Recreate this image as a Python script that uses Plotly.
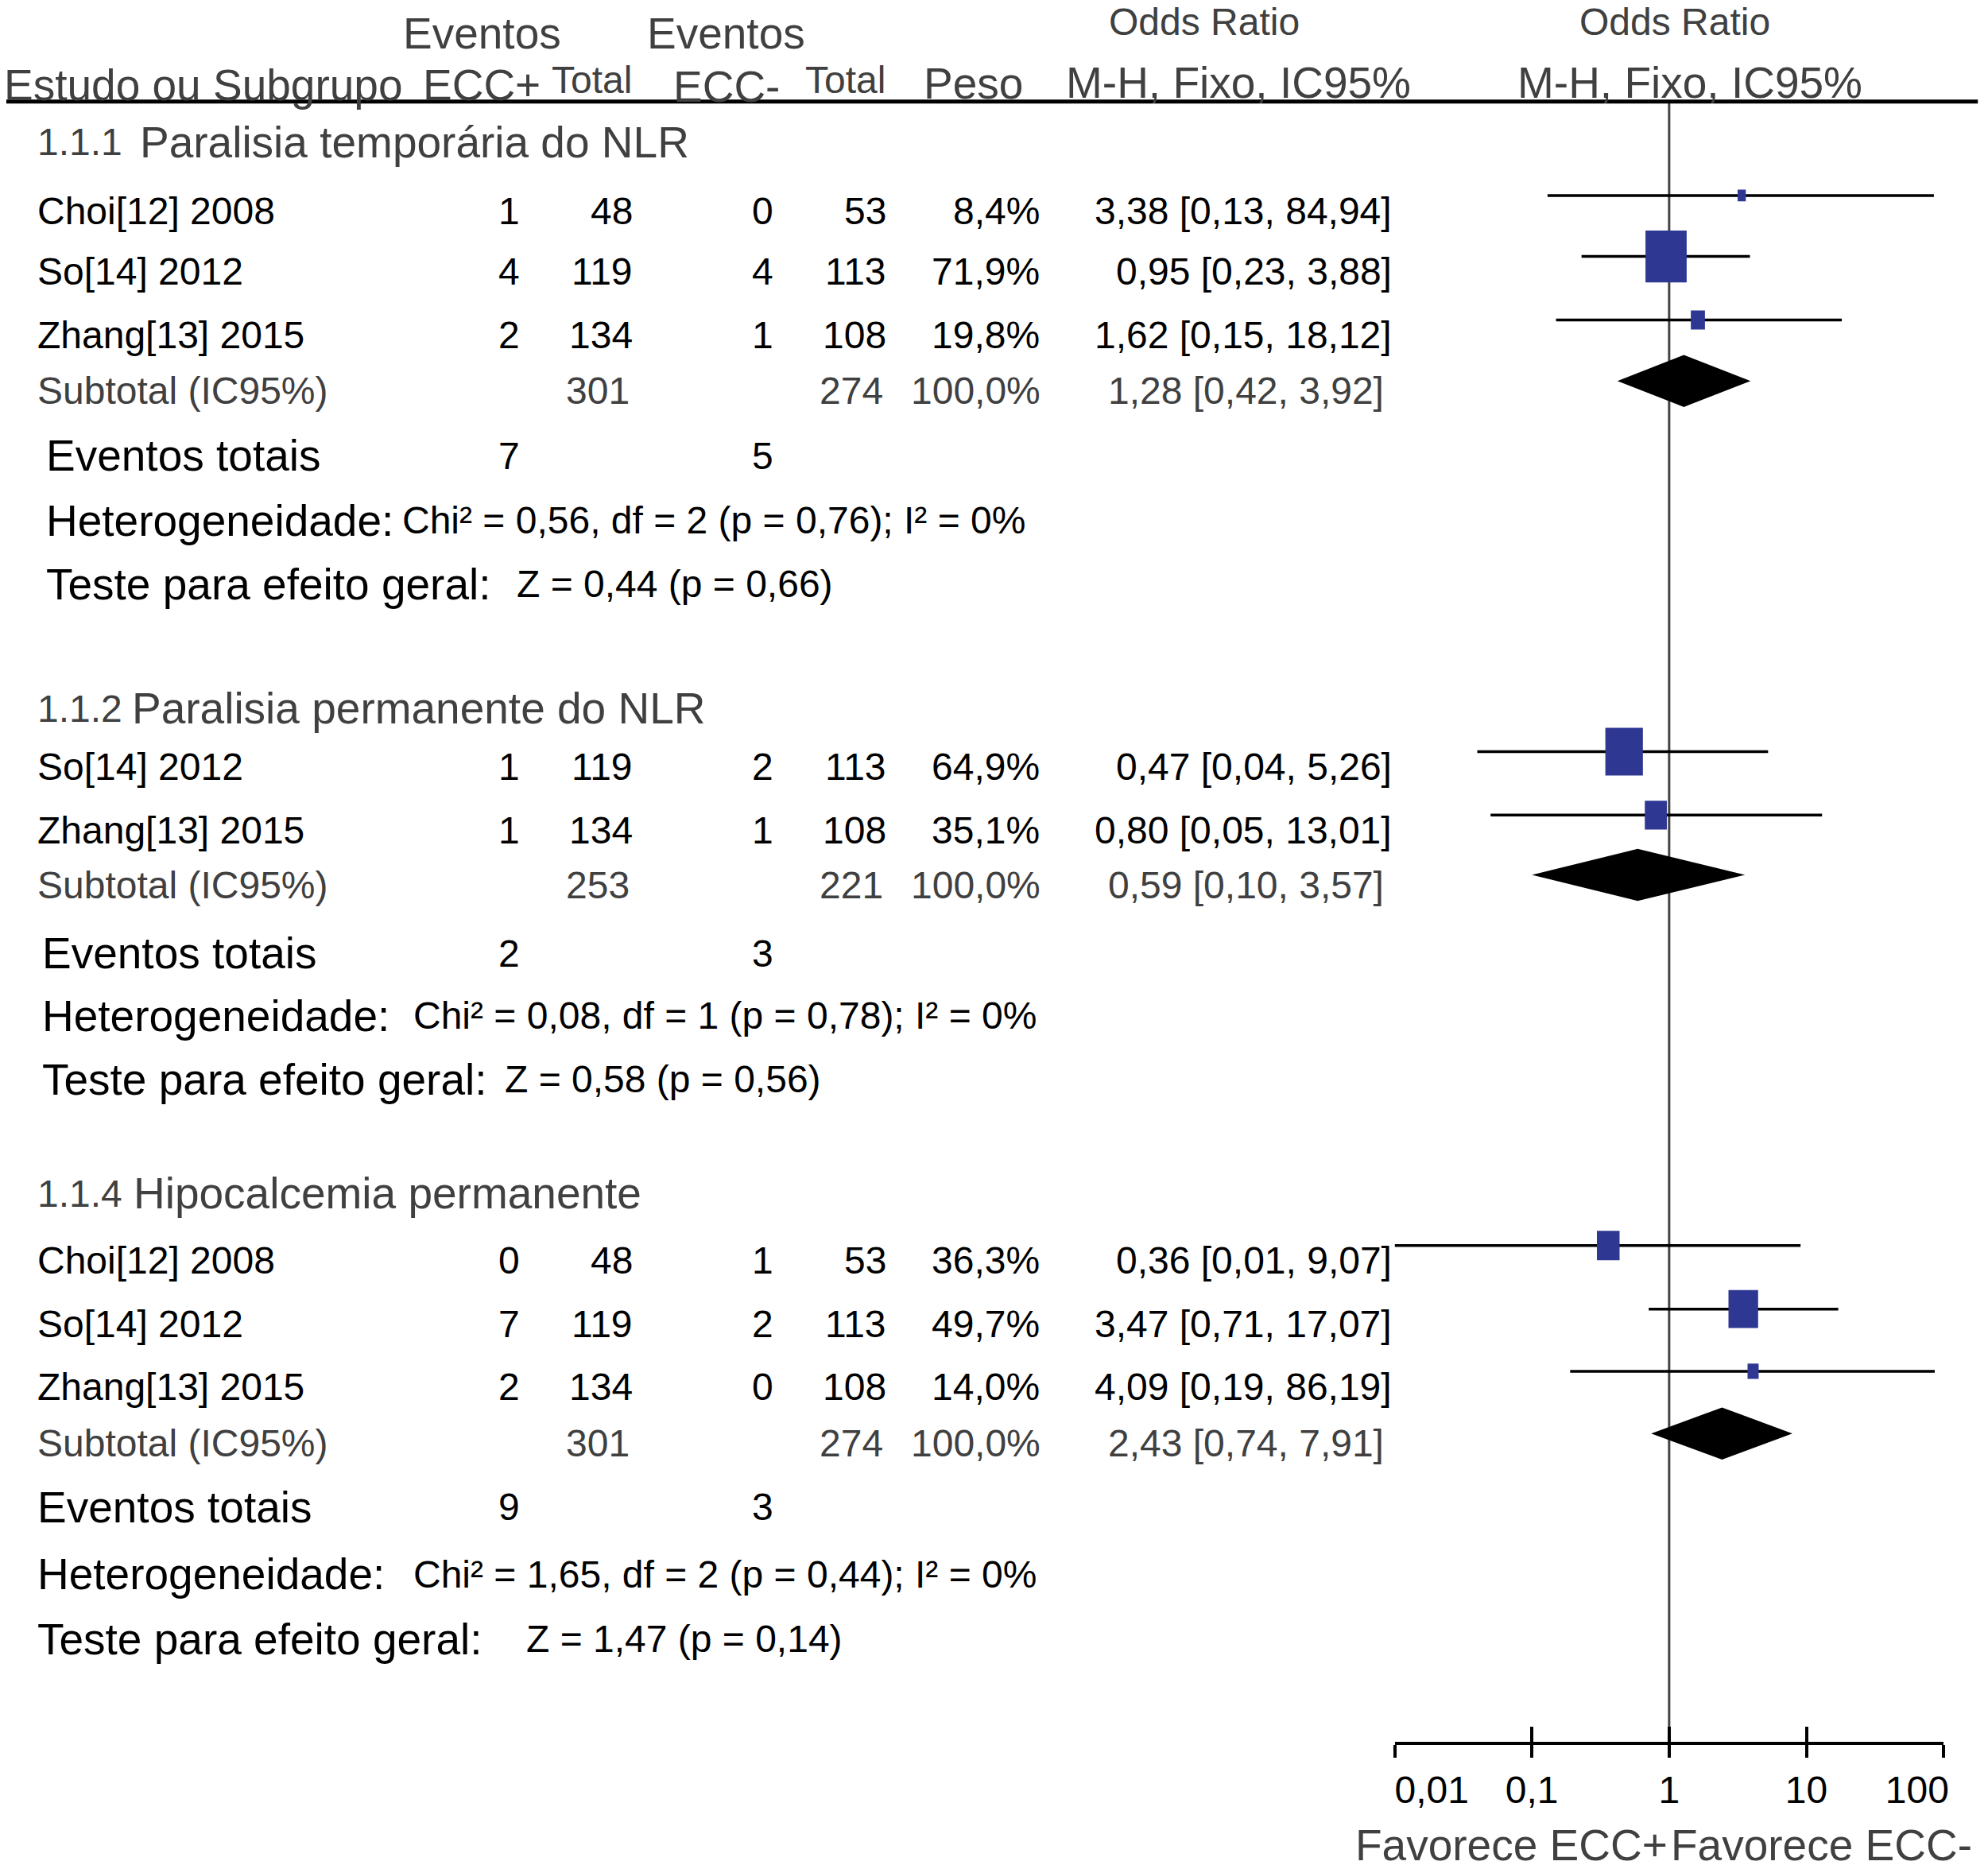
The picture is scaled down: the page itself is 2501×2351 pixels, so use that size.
import plotly.graph_objects as go

# ---- dados ----
group_codes = ["1.1.1", "1.1.2", "1.1.4"]
group_titles = ["Paralisia temporária do NLR", "Paralisia permanente do NLR", "Hipocalcemia permanente"]

study_group = [0, 0, 0, 1, 1, 2, 2, 2]
study_names = ["Choi[12] 2008", "So[14] 2012", "Zhang[13] 2015",
               "So[14] 2012", "Zhang[13] 2015",
               "Choi[12] 2008", "So[14] 2012", "Zhang[13] 2015"]
ev_pos = [1, 4, 2, 1, 1, 0, 7, 2]
tot_pos = [48, 119, 134, 119, 134, 48, 119, 134]
ev_neg = [0, 4, 1, 2, 1, 1, 2, 0]
tot_neg = [53, 113, 108, 113, 108, 53, 113, 108]
peso = [8.4, 71.9, 19.8, 64.9, 35.1, 36.3, 49.7, 14.0]
odds = [3.38, 0.95, 1.62, 0.47, 0.80, 0.36, 3.47, 4.09]
ci_low = [0.13, 0.23, 0.15, 0.04, 0.05, 0.01, 0.71, 0.19]
ci_high = [84.94, 3.88, 18.12, 5.26, 13.01, 9.07, 17.07, 86.19]

sub_tot_pos = [301, 253, 301]
sub_tot_neg = [274, 221, 274]
sub_peso = [100.0, 100.0, 100.0]
sub_odds = [1.28, 0.59, 2.43]
sub_low = [0.42, 0.10, 0.74]
sub_high = [3.92, 3.57, 7.91]
ev_tot_pos = [7, 2, 9]
ev_tot_neg = [5, 3, 3]
chi2 = [0.56, 0.08, 1.65]
chi_df = [2, 1, 2]
p_het = [0.76, 0.78, 0.44]
i2 = [0, 0, 0]
z_val = [0.44, 0.58, 1.47]
p_z = [0.66, 0.56, 0.14]

tick_vals = [0.01, 0.1, 1, 10, 100]
tick_text = ["0,01", "0,1", "1", "10", "100"]

# ---- layout (unidades de referencia: 1568 x 1472) ----
W, H = 2501, 2351
WD, HD = 1568, 1472
DEC = 108.3  # px de referencia por decada

REG = "Liberation Sans, Arial, Helvetica, sans-serif"
NAR = "Liberation Sans, Arial, Helvetica, sans-serif"
RS, NS = 55, 48
GRAY = "#404040"
BLUE = "#2e3792"

title_y = [112, 558, 940]
title_x = [109, 103, 104]
study_y = [166, 214, 264, 604, 654, 993, 1043, 1092]
sub_y = [308, 697, 1137]
evt_y = [359, 751, 1187]
het_y = [410, 800, 1240]
test_y = [460, 850, 1291]
lab_x = [35, 32, 28]
het_x = [316, 325, 325]
test_x = [406, 397, 414]
axis_y = 1373


def num(v, d=2):
    return f"{v:.{d}f}".replace(".", ",")


annots = []


def txt(x, y, s, anchor="left", fam=NAR, size=NS, color="black"):
    annots.append(dict(x=x / WD, y=y, xref="paper", yref="y", text=s, showarrow=False,
                       xanchor=anchor, yanchor="middle",
                       font=dict(family=fam, size=size, color=color)))


# cabecalho
txt(380, 26, "Eventos", "center", REG, RS, GRAY)
txt(573, 26, "Eventos", "center", REG, RS, GRAY)
txt(950, 17, "Odds Ratio", "center", NAR, NS, GRAY)
txt(1321, 17, "Odds Ratio", "center", NAR, NS, GRAY)
txt(2, 67, "Estudo ou Subgrupo", "left", REG, RS, GRAY)
txt(380, 67, "ECC+", "center", REG, RS, GRAY)
txt(467, 63, "Total", "center", NAR, NS, GRAY)
txt(573, 68, "ECC-", "center", REG, RS, GRAY)
txt(667, 63, "Total", "center", NAR, NS, GRAY)
txt(768, 66, "Peso", "center", REG, RS, GRAY)
txt(977, 65, "M-H, Fixo, IC95%", "center", REG, RS, GRAY)
txt(1333, 65, "M-H, Fixo, IC95%", "center", REG, RS, GRAY)

# estudos
for i in range(len(study_names)):
    y = study_y[i]
    txt(28, y, study_names[i])
    txt(411, y, str(ev_pos[i]), "right")
    txt(500, y, str(tot_pos[i]), "right")
    txt(611, y, str(ev_neg[i]), "right")
    txt(700, y, str(tot_neg[i]), "right")
    txt(821, y, num(peso[i], 1) + "%", "right")
    txt(1099, y, f"{num(odds[i])} [{num(ci_low[i])}, {num(ci_high[i])}]", "right")

# subgrupos
for g in range(3):
    txt(28, title_y[g], group_codes[g], "left", NAR, NS, GRAY)
    txt(title_x[g], title_y[g], group_titles[g], "left", REG, RS, GRAY)
    y = sub_y[g]
    txt(28, y, "Subtotal (IC95%)", "left", NAR, NS, GRAY)
    txt(498, y, str(sub_tot_pos[g]), "right", NAR, NS, GRAY)
    txt(698, y, str(sub_tot_neg[g]), "right", NAR, NS, GRAY)
    txt(822, y, num(sub_peso[g], 1) + "%", "right", NAR, NS, GRAY)
    txt(1093, y, f"{num(sub_odds[g])} [{num(sub_low[g])}, {num(sub_high[g])}]", "right", NAR, NS, GRAY)
    txt(lab_x[g], evt_y[g], "Eventos totais", "left", REG, RS)
    txt(411, evt_y[g], str(ev_tot_pos[g]), "right")
    txt(611, evt_y[g], str(ev_tot_neg[g]), "right")
    txt(lab_x[g], het_y[g], "Heterogeneidade:", "left", REG, RS)
    txt(het_x[g], het_y[g],
        f"Chi² = {num(chi2[g])}, df = {chi_df[g]} (p = {num(p_het[g])}); I² = {i2[g]}%")
    txt(lab_x[g], test_y[g], "Teste para efeito geral:", "left", REG, RS)
    txt(test_x[g], test_y[g], f"Z = {num(z_val[g])} (p = {num(p_z[g])})")

# ---- marcas do forest plot ----
fig = go.Figure()

# linha vertical em OR = 1
fig.add_trace(go.Scatter(x=[1, 1], y=[80, axis_y], mode="lines",
                         line=dict(color="#444444", width=3), hoverinfo="skip"))

lx, ly = [], []
rx, ry = [], []
for i in range(len(odds)):
    yc = study_y[i] - 12
    lx += [ci_low[i], ci_high[i], None]
    ly += [yc, yc, None]
    hw = (0.41 * peso[i] + 3) / 2 / DEC
    hh = (0.5 * peso[i] + 5) / 2
    a, b = odds[i] / 10 ** hw, odds[i] * 10 ** hw
    rx += [a, b, b, a, a, None]
    ry += [yc - hh, yc - hh, yc + hh, yc + hh, yc - hh, None]

fig.add_trace(go.Scatter(x=lx, y=ly, mode="lines", line=dict(color="black", width=3.5),
                         hoverinfo="skip"))
fig.add_trace(go.Scatter(x=rx, y=ry, mode="lines", fill="toself", fillcolor=BLUE,
                         line=dict(width=0, color=BLUE), hoverinfo="skip"))

dx, dy = [], []
for g in range(3):
    yc = sub_y[g] - 8
    dx += [sub_low[g], sub_odds[g], sub_high[g], sub_odds[g], sub_low[g], None]
    dy += [yc, yc - 20.5, yc, yc + 20.5, yc, None]
fig.add_trace(go.Scatter(x=dx, y=dy, mode="lines", fill="toself", fillcolor="black",
                         line=dict(width=0, color="black"), hoverinfo="skip"))

# rotulos do eixo
annots.append(dict(x=0, y=1453, xref="x", yref="y", text="Favorece ECC+", showarrow=False,
                   xanchor="right", yanchor="middle", font=dict(family=REG, size=RS, color=GRAY)))
annots.append(dict(x=0, y=1453, xref="x", yref="y", text="Favorece ECC-", showarrow=False,
                   xanchor="left", yanchor="middle", font=dict(family=REG, size=RS, color=GRAY)))

# linha do cabecalho
shapes = [dict(type="line", xref="paper", yref="y", x0=5 / WD, x1=1560 / WD, y0=80, y1=80,
               line=dict(color="black", width=5))]

# rotulos das pontas puxados para dentro do eixo
nb = "\u00a0"
tick_lab = list(tick_text)
tick_lab[0] = nb * 7 + tick_lab[0]
tick_lab[-1] = tick_lab[-1] + nb * 5

pos = 1 - axis_y / HD
dom = [1100 / WD, 1533 / WD]
fig.update_layout(
    width=W, height=H,
    margin=dict(l=0, r=0, t=0, b=0, pad=0, autoexpand=False),
    paper_bgcolor="white", plot_bgcolor="white",
    showlegend=False,
    annotations=annots,
    shapes=shapes,
    xaxis=dict(type="log", range=[-2, 2], domain=dom, anchor="free", position=pos,
               showgrid=False, zeroline=False, showline=True, linecolor="black", linewidth=4,
               ticks="outside", ticklen=16, tickwidth=4, tickcolor="black",
               tickvals=tick_vals, ticktext=tick_lab, ticklabelstandoff=0,
               ticklabeloverflow="allow",
               tickfont=dict(family=NAR, size=NS, color="black")),
    xaxis2=dict(type="log", range=[-2, 2], domain=dom, anchor="free", position=pos,
                overlaying="x", showgrid=False, zeroline=False, showline=False,
                ticks="inside", ticklen=21, tickwidth=4, tickcolor="black",
                tickvals=tick_vals, showticklabels=False),
    yaxis=dict(range=[HD, 0], domain=[0, 1], visible=False),
)
# traco vazio para ativar o segundo eixo
fig.add_trace(go.Scatter(x=[1], y=[axis_y], xaxis="x2", mode="markers",
                         marker=dict(opacity=0), hoverinfo="skip"))

# sem margem do body, para a figura ocupar a janela inteira
fig.write_html("out.html", config={"displayModeBar": False},
               post_script="document.body.style.margin='0px';")
